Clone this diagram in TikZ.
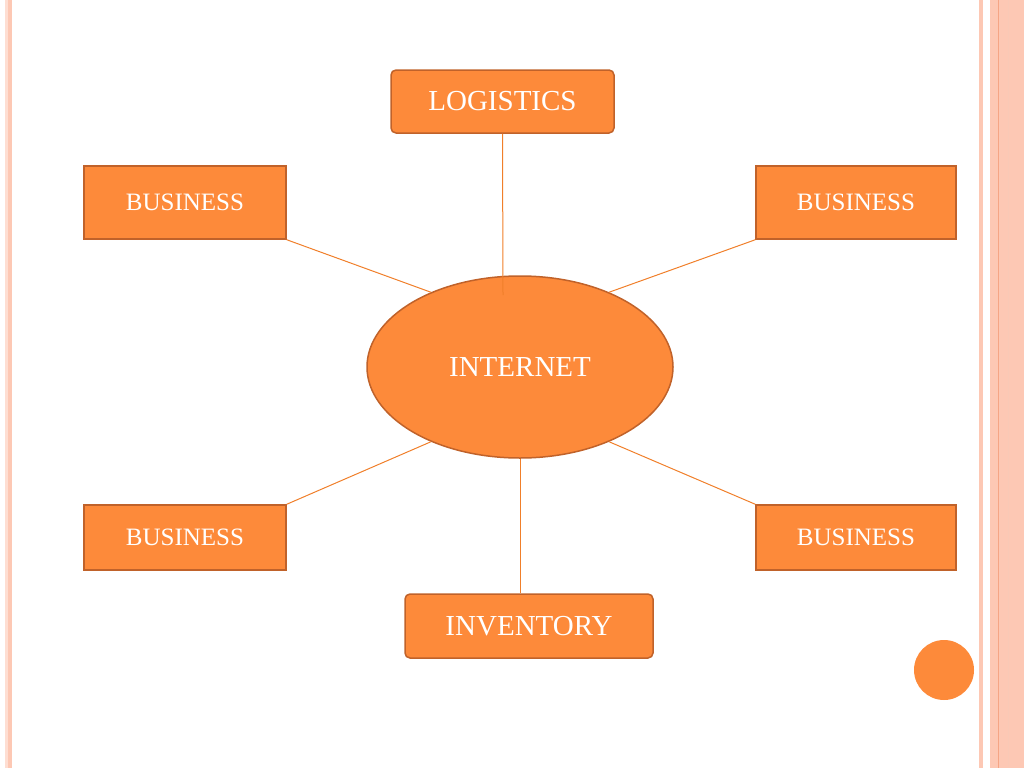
\documentclass[tikz,border=0pt]{standalone}
\usepackage{fontspec}
\setmainfont{Liberation Serif}
\usetikzlibrary{positioning,shapes.geometric}
\definecolor{boxFill}{HTML}{FD8A3A}
\definecolor{boxLine}{HTML}{C0622A}
\definecolor{linkColor}{HTML}{F07F2A}
\definecolor{stripe}{HTML}{FDC8B4}
\definecolor{stripeDark}{HTML}{F5A585}
\tikzset{
	box/.style={draw=boxLine, fill=boxFill, line width=1.5pt, text=white, inner sep=0pt},
	rbox/.style={box, rounded corners=5pt},
	link/.style={draw=linkColor, line width=1pt}
}
\begin{document}
\begin{tikzpicture}[x=1pt,y=-1pt]
	\useasboundingbox (0,0) rectangle (1024,768);
	% page stripes
	\fill[stripe!60] (5,0) rectangle (8,768);
	\fill[stripe] (8,0) rectangle (12,768);
	\fill[stripe] (979,0) rectangle (983,768);
	\fill[stripe] (990,0) rectangle (1024,768);
	\draw[stripeDark, line width=1pt] (998,0) -- (998,768);
	\draw[stripeDark!60, line width=0.6pt] (1008,0) -- (1008,768);
	\node[rbox, minimum width=223pt, minimum height=63pt, font=\fontsize{29}{30}\selectfont] (logistics) at (502.5,101.5) {LOGISTICS};
	\node[box, minimum width=202pt, minimum height=73pt, font=\fontsize{25}{26}\selectfont] (busTL) at (185,202.5) {BUSINESS};
	\node[box, minimum width=200pt, minimum height=73pt, font=\fontsize{25}{26}\selectfont] (busTR) at (856,202.5) {BUSINESS};
	\node[box, minimum width=202pt, minimum height=65pt, font=\fontsize{25}{26}\selectfont] (busBL) at (185,537.5) {BUSINESS};
	\node[box, minimum width=200pt, minimum height=65pt, font=\fontsize{25}{26}\selectfont] (busBR) at (856,537.5) {BUSINESS};
	\node[rbox, minimum width=248pt, minimum height=64pt, font=\fontsize{29}{30}\selectfont] (inventory) at (529,626) {INVENTORY};
	\node[box, ellipse, minimum width=306pt, minimum height=182pt, font=\fontsize{29}{30}\selectfont] (internet) at (520,367) {INTERNET};
	\coordinate (hub) at (503,295);
	\path[link] (logistics.south) -- (hub);
	\path[link] (busTL.south east) -- (internet.140);
	\path[link] (busTR.south west) -- (internet.40);
	\path[link] (busBL.north east) -- (internet.220);
	\path[link] (busBR.north west) -- (internet.320);
	\path[link] (inventory.north -| internet.south) -- (internet.south);
	\fill[boxFill] (944,670) circle (30);
\end{tikzpicture}
\end{document}
